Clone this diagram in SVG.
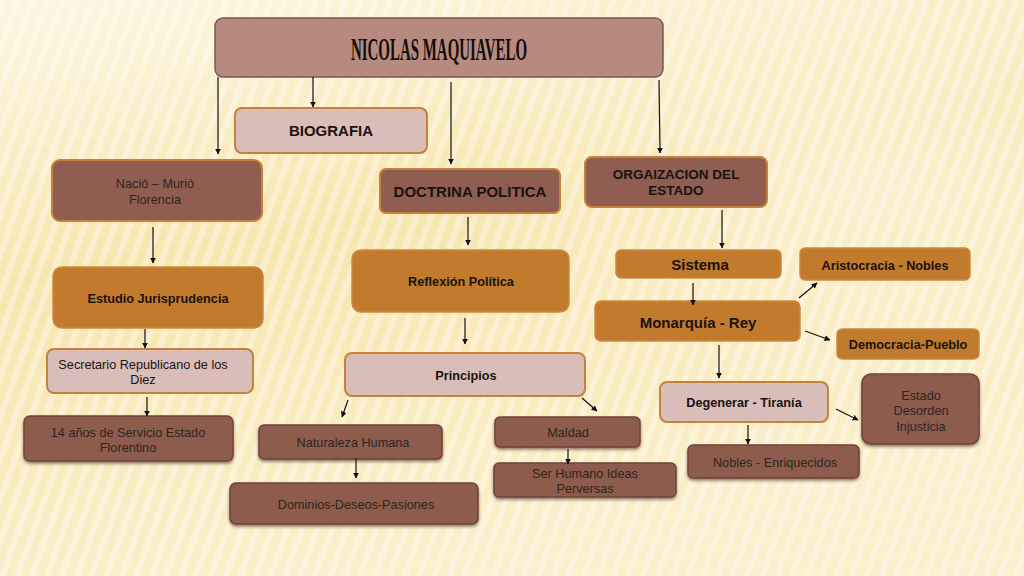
<svg xmlns="http://www.w3.org/2000/svg" width="1024" height="576" viewBox="0 0 1024 576">
<defs>
<linearGradient id="bg" x1="0" y1="0" x2="0.3" y2="1">
<stop offset="0" stop-color="#fdf6e2"/>
<stop offset="0.45" stop-color="#f8e6b0"/>
<stop offset="1" stop-color="#fbefcc"/>
</linearGradient>
<radialGradient id="glow" cx="0.85" cy="0.3" r="0.4">
<stop offset="0" stop-color="#ffffff" stop-opacity="0.35"/>
<stop offset="1" stop-color="#ffffff" stop-opacity="0"/>
</radialGradient>
<pattern id="stripes" width="14" height="14" patternUnits="userSpaceOnUse" patternTransform="rotate(20)">
<rect width="6" height="14" fill="#ffffff" opacity="0.35"/>
</pattern>
<marker id="ah" viewBox="0 0 10 10" refX="9" refY="5" markerWidth="6" markerHeight="6" orient="auto" markerUnits="userSpaceOnUse">
<path d="M0,0 L10,5 L0,10 z" fill="#111"/>
</marker>
<filter id="sh" x="-10%" y="-20%" width="120%" height="150%">
<feDropShadow dx="0" dy="2" stdDeviation="1.5" flood-color="#4a2e22" flood-opacity="0.6"/>
</filter>
</defs>
<style>
.brown{fill:#8f5e51;stroke:#c4823a;stroke-width:2}
.brown2{fill:#8d5b4e;stroke:#6e4538;stroke-width:1.5;filter:url(#sh)}
.orange{fill:#c27a2d;stroke:#c98b45;stroke-width:1.5}
.pink{fill:#d8bdb9;stroke:#c4823a;stroke-width:2}
.title{fill:#b68a80;stroke:#7a5a50;stroke-width:1.5}
text{font-family:"Liberation Sans",Arial,sans-serif;text-anchor:middle;fill:#1a120e}
.b{font-weight:bold}
.s{font-size:12.7px}
.m{font-size:13.5px}
.l{font-size:15px}
.g{fill:#2e2420}
.conn line{stroke:#111;stroke-width:1.2;marker-end:url(#ah)}
</style>
<rect width="1024" height="576" fill="url(#bg)"/>
<rect width="1024" height="576" fill="url(#stripes)"/>
<rect width="1024" height="576" fill="url(#glow)"/>

<g id="n-title"><rect class="title" x="215" y="18" width="448" height="59" rx="8"/>
<text x="439" y="60" font-size="32" font-weight="bold" textLength="176" lengthAdjust="spacingAndGlyphs" style="font-family:'Liberation Serif',serif;fill:#140c08">NICOLAS MAQUIAVELO</text></g>
<g id="n-biografia"><rect class="pink" x="235" y="108" width="192" height="45" rx="7"/><text class="b l" x="331" y="136">BIOGRAFIA</text></g>
<g id="n-nacio"><rect class="brown" x="52" y="160" width="210" height="61" rx="8"/><text class="s g" x="155" y="188">Nació – Murió</text><text class="s g" x="155" y="204">Florencia</text></g>
<g id="n-doctrina"><rect class="brown" x="380" y="169" width="180" height="44" rx="6"/><text class="b l" x="470" y="197">DOCTRINA POLITICA</text></g>
<g id="n-organizacion"><rect class="brown" x="585" y="157" width="182" height="50" rx="7"/><text class="b m" x="676" y="179">ORGAIZACION DEL</text><text class="b m" x="676" y="195">ESTADO</text></g>
<g id="n-estudio"><rect class="orange" x="53" y="267" width="210" height="61" rx="9"/><text class="b s" x="158" y="303">Estudio Jurisprudencia</text></g>
<g id="n-reflexion"><rect class="orange" x="352" y="250" width="217" height="62" rx="9"/><text class="b s" x="461" y="286">Reflexión Política</text></g>
<g id="n-sistema"><rect class="orange" x="616" y="250" width="165" height="28" rx="5"/><text class="b l" x="700" y="270">Sistema</text></g>
<g id="n-aristocracia"><rect class="orange" x="800" y="248" width="170" height="32" rx="5"/><text class="b s" x="885" y="270">Aristocracia - Nobles</text></g>
<g id="n-monarquia"><rect class="orange" x="595" y="301" width="205" height="40" rx="6"/><text class="b l" x="698" y="328">Monarquía - Rey</text></g>
<g id="n-democracia"><rect class="orange" x="837" y="329" width="142" height="30" rx="5"/><text class="b s" x="908" y="349">Democracia-Pueblo</text></g>
<g id="n-secretario"><rect class="pink" x="47" y="349" width="206" height="44" rx="7"/><text class="s" x="143" y="369">Secretario Republicano de los</text><text class="s" x="143" y="384">Diez</text></g>
<g id="n-principios"><rect class="pink" x="345" y="353" width="240" height="43" rx="7"/><text class="b s" x="466" y="380">Principios</text></g>
<g id="n-degenerar"><rect class="pink" x="660" y="382" width="168" height="40" rx="7"/><text class="b s" x="744" y="407">Degenerar - Tiranía</text></g>
<g id="n-estado"><rect class="brown2" x="862" y="374" width="117" height="70" rx="9"/><text class="s g" x="921" y="400">Estado</text><text class="s g" x="921" y="415">Desorden</text><text class="s g" x="921" y="431">Injusticia</text></g>
<g id="n-14anos"><rect class="brown2" x="24" y="416" width="209" height="45" rx="6"/><text class="s g" x="128" y="437">14 años de Servicio Estado</text><text class="s g" x="128" y="452">Florentino</text></g>
<g id="n-naturaleza"><rect class="brown2" x="259" y="425" width="183" height="34" rx="5"/><text class="s g" x="353" y="447">Naturaleza Humana</text></g>
<g id="n-maldad"><rect class="brown2" x="495" y="417" width="145" height="30" rx="5"/><text class="s g" x="568" y="437">Maldad</text></g>
<g id="n-serhumano"><rect class="brown2" x="494" y="463" width="182" height="34" rx="5"/><text class="s g" x="585" y="478">Ser Humano Ideas</text><text class="s g" x="585" y="493">Perversas</text></g>
<g id="n-dominios"><rect class="brown2" x="230" y="483" width="248" height="41" rx="6"/><text class="s g" x="356" y="509">Dominios-Deseos-Pasiones</text></g>
<g id="n-nobles"><rect class="brown2" x="688" y="445" width="171" height="33" rx="5"/><text class="s g" x="775" y="467">Nobles - Enriquecidos</text></g>

<g id="connectors" class="conn">
<line x1="218" y1="77" x2="218" y2="154"/>
<line x1="313" y1="77" x2="313" y2="107"/>
<line x1="451" y1="82" x2="451" y2="164"/>
<line x1="659" y1="80" x2="660" y2="153"/>
<line x1="153" y1="227" x2="153" y2="263"/>
<line x1="468" y1="217" x2="468" y2="245"/>
<line x1="722" y1="210" x2="722" y2="248"/>
<line x1="145" y1="329" x2="145" y2="348"/>
<line x1="465" y1="318" x2="465" y2="344"/>
<line x1="693" y1="283" x2="693" y2="305"/>
<line x1="799" y1="298" x2="817" y2="283"/>
<line x1="805" y1="331" x2="830" y2="340"/>
<line x1="719" y1="345" x2="719" y2="378"/>
<line x1="147" y1="397" x2="147" y2="416"/>
<line x1="348" y1="400" x2="342" y2="417"/>
<line x1="582" y1="398" x2="597" y2="411"/>
<line x1="356" y1="458" x2="356" y2="478"/>
<line x1="568" y1="449" x2="568" y2="464"/>
<line x1="748" y1="425" x2="748" y2="444"/>
<line x1="836" y1="409" x2="858" y2="420"/>
</g>
</svg>
